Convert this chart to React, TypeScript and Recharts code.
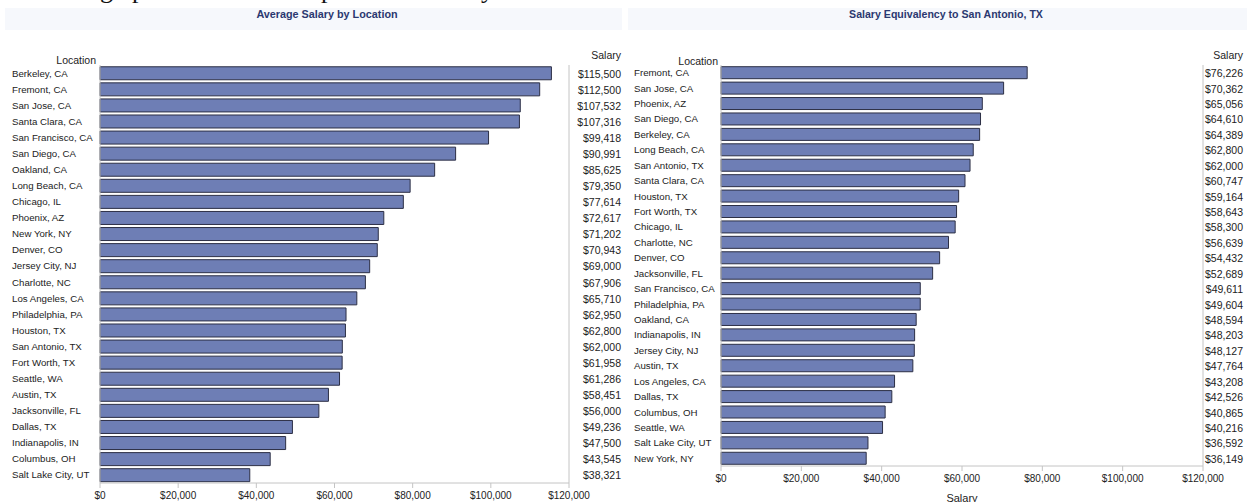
import React from "react";
import {
  BarChart,
  Bar,
  XAxis,
  YAxis,
  ReferenceLine,
} from "recharts";

/* Average salary by location */
const avgCities = [
  "Berkeley, CA", "Fremont, CA", "San Jose, CA", "Santa Clara, CA", "San Francisco, CA",
  "San Diego, CA", "Oakland, CA", "Long Beach, CA", "Chicago, IL", "Phoenix, AZ",
  "New York, NY", "Denver, CO", "Jersey City, NJ", "Charlotte, NC", "Los Angeles, CA",
  "Philadelphia, PA", "Houston, TX", "San Antonio, TX", "Fort Worth, TX", "Seattle, WA",
  "Austin, TX", "Jacksonville, FL", "Dallas, TX", "Indianapolis, IN", "Columbus, OH",
  "Salt Lake City, UT",
];
const avgSalaries = [
  115500, 112500, 107532, 107316, 99418, 90991, 85625, 79350, 77614, 72617,
  71202, 70943, 69000, 67906, 65710, 62950, 62800, 62000, 61958, 61286,
  58451, 56000, 49236, 47500, 43545, 38321,
];

/* Salary equivalency to San Antonio */
const eqCities = [
  "Fremont, CA", "San Jose, CA", "Phoenix, AZ", "San Diego, CA", "Berkeley, CA",
  "Long Beach, CA", "San Antonio, TX", "Santa Clara, CA", "Houston, TX", "Fort Worth, TX",
  "Chicago, IL", "Charlotte, NC", "Denver, CO", "Jacksonville, FL", "San Francisco, CA",
  "Philadelphia, PA", "Oakland, CA", "Indianapolis, IN", "Jersey City, NJ", "Austin, TX",
  "Los Angeles, CA", "Dallas, TX", "Columbus, OH", "Seattle, WA", "Salt Lake City, UT",
  "New York, NY",
];
const eqSalaries = [
  76226, 70362, 65056, 64610, 64389, 62800, 62000, 60747, 59164, 58643,
  58300, 56639, 54432, 52689, 49611, 49604, 48594, 48203, 48127, 47764,
  43208, 42526, 40865, 40216, 36592, 36149,
];

const xTicks = [0, 20000, 40000, 60000, 80000, 100000, 120000];
const BASE_SALARY = 62000;

const FONT = "'Liberation Sans', Arial, sans-serif";
const BAR_FILL = "#6E7EB5";
const BAR_STROKE = "#2C2F45";
const FRAME = "#C4C4C4";
const TEXT = "#222";
const TITLE = "#2B3870";

const money = (v: number) => "$" + v.toLocaleString("en-US");

type PanelProps = {
  cities: string[];
  salaries: number[];
  width: number;
  leftW: number;
  rightW: number;
  xAxisH: number;
  labelX: number;
  valueX: number;
  xLabel?: string;
  underlay?: boolean;
};

function SalaryPanel({
  cities,
  salaries,
  width,
  leftW,
  rightW,
  xAxisH,
  labelX,
  valueX,
  xLabel,
  underlay = false,
}: PanelProps) {
  const data = cities.map((name, i) => ({ name, value: salaries[i] }));
  const byName: Record<string, number> = {};
  data.forEach((d) => (byName[d.name] = d.value));

  // the underlay only carries the San Antonio reference line, so it sits behind the bars
  if (underlay) {
    return (
      <BarChart
        width={width}
        height={502}
        data={data}
        layout="vertical"
        margin={{ top: 65, right: 0, bottom: 0, left: 0 }}
      >
        <XAxis xAxisId="bottom" type="number" domain={[0, 120000]} height={xAxisH} tick={false} axisLine={false} tickLine={false} />
        <YAxis yAxisId="left" type="category" dataKey="name" width={leftW} tick={false} axisLine={false} tickLine={false} />
        <YAxis yAxisId="right" orientation="right" type="category" dataKey="name" width={rightW} tick={false} axisLine={false} tickLine={false} />
        <ReferenceLine x={BASE_SALARY} xAxisId="bottom" yAxisId="left" stroke="#111" strokeWidth={1} />
      </BarChart>
    );
  }

  return (
    <BarChart
      width={width}
      height={502}
      data={data}
      layout="vertical"
      margin={{ top: 65, right: 0, bottom: 0, left: 0 }}
      barCategoryGap="11%"
    >
      <XAxis
        xAxisId="bottom"
        type="number"
        domain={[0, 120000]}
        ticks={xTicks}
        tickFormatter={money}
        height={xAxisH}
        axisLine={{ stroke: FRAME }}
        tickLine={{ stroke: FRAME }}
        tickSize={5}
        tickMargin={4}
        tick={{ fontSize: 10, fill: TEXT, fontFamily: FONT }}
        label={
          xLabel
            ? { value: xLabel, position: "insideBottom", offset: 0, fontSize: 11, fill: TEXT, fontFamily: FONT }
            : undefined
        }
      />
      <XAxis
        xAxisId="top"
        orientation="top"
        type="number"
        domain={[0, 120000]}
        height={0}
        tick={false}
        tickLine={false}
        axisLine={{ stroke: FRAME }}
      />
      <YAxis
        yAxisId="left"
        type="category"
        dataKey="name"
        width={leftW}
        axisLine={{ stroke: FRAME }}
        tickLine={false}
        interval={0}
        tick={(p: any) => (
          <text
            x={labelX}
            y={p.y}
            dy={3.5}
            textAnchor="start"
            fontSize={9.7}
            fill={TEXT}
            fontFamily={FONT}
          >
            {p.payload.value}
          </text>
        )}
      />
      <YAxis
        yAxisId="right"
        orientation="right"
        type="category"
        dataKey="name"
        width={rightW}
        axisLine={{ stroke: FRAME }}
        tickLine={false}
        interval={0}
        tick={(p: any) => (
          <text
            x={valueX}
            y={p.y}
            dy={4.5}
            textAnchor="end"
            fontSize={10.5}
            fill={TEXT}
            fontFamily={FONT}
          >
            {money(byName[p.payload.value])}
          </text>
        )}
      />
      <Bar
        dataKey="value"
        xAxisId="bottom"
        yAxisId="left"
        fill={BAR_FILL}
        stroke={BAR_STROKE}
        strokeWidth={1}
        isAnimationActive={false}
      />
    </BarChart>
  );
}

const abs = (style: React.CSSProperties): React.CSSProperties => ({
  position: "absolute",
  fontFamily: FONT,
  color: TEXT,
  whiteSpace: "nowrap",
  ...style,
});

const leftPanel = {
  cities: avgCities,
  salaries: avgSalaries,
  width: 625,
  leftW: 100,
  rightW: 56,
  xAxisH: 19,
  labelX: 12,
  valueX: 621,
};

const rightPanel = {
  cities: eqCities,
  salaries: eqSalaries,
  width: 622,
  leftW: 96,
  rightW: 44,
  xAxisH: 36,
  labelX: 9,
  valueX: 618,
  xLabel: "Salary",
};

export default function App() {
  return (
    <div style={{ position: "relative", width: 1247, height: 502, background: "#fff", overflow: "hidden" }}>
      <style>{"body{margin:0}"}</style>

      {/* bottom edge of the document text above the charts */}
      {[
        ["g", 100],
        ["p", 132],
        ["p", 321],
        ["y", 481],
      ].map(([ch, x], i) => (
        <span
          key={i}
          style={{
            position: "absolute",
            left: x as number,
            top: -23,
            fontFamily: "'Liberation Serif', 'Times New Roman', serif",
            fontSize: 26,
            lineHeight: "26px",
            color: "#111",
          }}
        >
          {ch}
        </span>
      ))}

      {/* title bands */}
      <div style={abs({ left: 5, top: 8, width: 617, height: 22, background: "#F6F8FC" })} />
      <div style={abs({ left: 628, top: 8, width: 619, height: 22, background: "#F6F8FC" })} />
      <div style={abs({ left: 0, width: 654, top: 8, textAlign: "center", fontSize: 10.8, fontWeight: 700, color: TITLE })}>
        Average Salary by Location
      </div>
      <div style={abs({ left: 645, width: 602, top: 8, textAlign: "center", fontSize: 10.6, fontWeight: 700, color: TITLE })}>
        Salary Equivalency to San Antonio, TX
      </div>

      {/* left panel */}
      <div style={abs({ left: 0, top: 0 })}>
        <SalaryPanel {...leftPanel} underlay />
      </div>
      <div style={abs({ left: 0, top: 0 })}>
        <SalaryPanel {...leftPanel} />
      </div>
      <div style={abs({ left: 0, width: 96, top: 54, textAlign: "right", fontSize: 10.5 })}>Location</div>
      <div style={abs({ left: 560, width: 61, top: 49, textAlign: "right", fontSize: 10.5 })}>Salary</div>

      {/* right panel */}
      <div style={abs({ left: 625, top: 0 })}>
        <SalaryPanel {...rightPanel} underlay />
      </div>
      <div style={abs({ left: 625, top: 0 })}>
        <SalaryPanel {...rightPanel} />
      </div>
      <div style={abs({ left: 625, width: 93, top: 55, textAlign: "right", fontSize: 10.5 })}>Location</div>
      <div style={abs({ left: 1180, width: 63, top: 49, textAlign: "right", fontSize: 10.5 })}>Salary</div>
    </div>
  );
}
